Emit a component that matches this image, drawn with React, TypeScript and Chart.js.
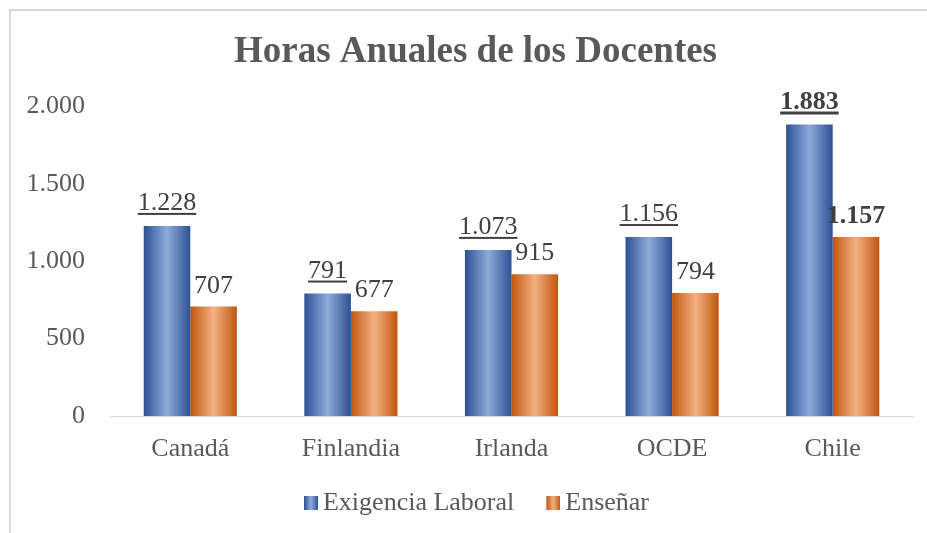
import React, { useEffect, useRef } from 'react';
import { Chart, registerables } from 'chart.js';

Chart.register(...registerables);

const categories = ['Canadá', 'Finlandia', 'Irlanda', 'OCDE', 'Chile'];
const exigenciaLaboral = [1228, 791, 1073, 1156, 1883];
const ensenar = [707, 677, 915, 794, 1157];
const yTickValues = [0, 500, 1000, 1500, 2000];
const seriesNames = ['Exigencia Laboral', 'Enseñar'];
const boldCategory = 'Chile';
const chartTitle = 'Horas Anuales de los Docentes';

const FONT = '"Liberation Serif", "Times New Roman", serif';
const CAT_PCT = 0.58;
const palettes = [
  { dark: '#2c5293', light: '#8eaadc' },
  { dark: '#c0560f', light: '#f4b183' },
];

const fmt = (v: number) => String(Math.round(v)).replace(/\B(?=(\d{3})+(?!\d))/g, '.');

function makeGradient(ctx: CanvasRenderingContext2D, left: number, right: number, dark: string, light: string) {
  const g = ctx.createLinearGradient(left, 0, right, 0);
  g.addColorStop(0, dark);
  g.addColorStop(0.5, light);
  g.addColorStop(1, dark);
  return g;
}

// legend swatch: 14x14 gradient square at the right end of a wider transparent canvas
function legendSwatch(p: { dark: string; light: string }) {
  const c = document.createElement('canvas');
  c.width = 36;
  c.height = 14;
  const x = c.getContext('2d')!;
  x.fillStyle = makeGradient(x, 22, 36, p.dark, p.light);
  x.fillRect(22, 0, 14, 14);
  return c;
}

const labelPlugin = {
  id: 'barLabels',
  afterLayout(chart: any) {
    if (chart.titleBlock) chart.titleBlock.left += 12;
  },
  afterDatasetsDraw(chart: any) {
    const ctx = chart.ctx as CanvasRenderingContext2D;
    chart.data.datasets.forEach((ds: any, di: number) => {
      const meta = chart.getDatasetMeta(di);
      meta.data.forEach((bar: any, i: number) => {
        const v = ds.data[i] as number;
        const bold = categories[i] === boldCategory;
        const text = fmt(v);
        ctx.save();
        ctx.font = `${bold ? 'bold ' : ''}26px ${FONT}`;
        ctx.fillStyle = '#404040';
        ctx.textAlign = 'center';
        ctx.textBaseline = 'alphabetic';
        const y = bar.y - (di === 0 ? 16 : 14);
        ctx.fillText(text, bar.x, y);
        if (di === 0) {
          const w = ctx.measureText(text).width;
          ctx.fillRect(bar.x - w / 2, y + 3, w, bold ? 3 : 2);
        }
        ctx.restore();
      });
    });
  },
};

export default function App() {
  const ref = useRef<HTMLCanvasElement>(null);

  useEffect(() => {
    if (!ref.current) return;
    const bg = (di: number) => (c: any) => {
      const p = palettes[di];
      const chart = c.chart;
      const xs = chart.scales?.x;
      if (!xs || c.dataIndex === undefined) return p.dark;
      const center = xs.getPixelForValue(c.dataIndex);
      const cw = (xs.right - xs.left) / categories.length;
      const bw = (cw * CAT_PCT) / 2;
      const left = di === 0 ? center - bw : center;
      return makeGradient(chart.ctx, left, left + bw, p.dark, p.light);
    };
    const chart = new Chart(ref.current, {
      type: 'bar',
      data: {
        labels: categories,
        datasets: [
          { label: seriesNames[0], data: exigenciaLaboral, backgroundColor: bg(0), categoryPercentage: CAT_PCT, barPercentage: 1 },
          { label: seriesNames[1], data: ensenar, backgroundColor: bg(1), categoryPercentage: CAT_PCT, barPercentage: 1 },
        ],
      },
      options: {
        responsive: false,
        animation: false,
        layout: { padding: { left: 15, right: 14, top: 0, bottom: 7 } },
        plugins: {
          title: {
            display: true,
            text: chartTitle,
            color: '#595959',
            font: { family: FONT, size: 37, weight: 'bold' },
            padding: { top: 19, bottom: 32 },
          },
          legend: {
            position: 'bottom',
            labels: {
              color: '#595959',
              font: { family: FONT, size: 26 },
              usePointStyle: true,
              pointStyleWidth: 20,
              padding: 18,
              generateLabels: () =>
                seriesNames.map((n, i) => ({
                  text: n,
                  pointStyle: legendSwatch(palettes[i]) as any,
                  fillStyle: palettes[i].dark,
                  strokeStyle: 'transparent',
                  lineWidth: 0,
                  hidden: false,
                  datasetIndex: i,
                  fontColor: '#595959',
                })),
            },
          },
          tooltip: { enabled: false },
        },
        scales: {
          x: {
            grid: { display: false, drawTicks: false },
            border: { display: true, color: '#d9d9d9', width: 1 },
            ticks: { color: '#595959', font: { family: FONT, size: 26 }, padding: 18 },
            afterFit: (s: any) => { s.height = 56; },
          },
          y: {
            min: 0,
            max: 2000,
            grid: { display: false, drawTicks: false },
            border: { display: false },
            afterBuildTicks: (s: any) => { s.ticks = yTickValues.map((v) => ({ value: v })); },
            ticks: { color: '#595959', font: { family: FONT, size: 26 }, padding: 25, callback: (v: any) => fmt(Number(v)) },
            afterFit: (s: any) => { s.width = 84; },
          },
        },
      },
      plugins: [labelPlugin],
    } as any);
    return () => chart.destroy();
  }, []);

  return (
    <div style={{ position: 'fixed', left: 0, top: 0, width: 927, height: 533, overflow: 'hidden', background: '#fff' }}>
      <div style={{ position: 'absolute', left: 9, top: 9, width: 960, height: 560, border: '2px solid #d9d9d9', boxSizing: 'border-box' }} />
      <canvas ref={ref} width={916} height={522} style={{ position: 'absolute', left: 11, top: 11, display: 'block' }} />
    </div>
  );
}
